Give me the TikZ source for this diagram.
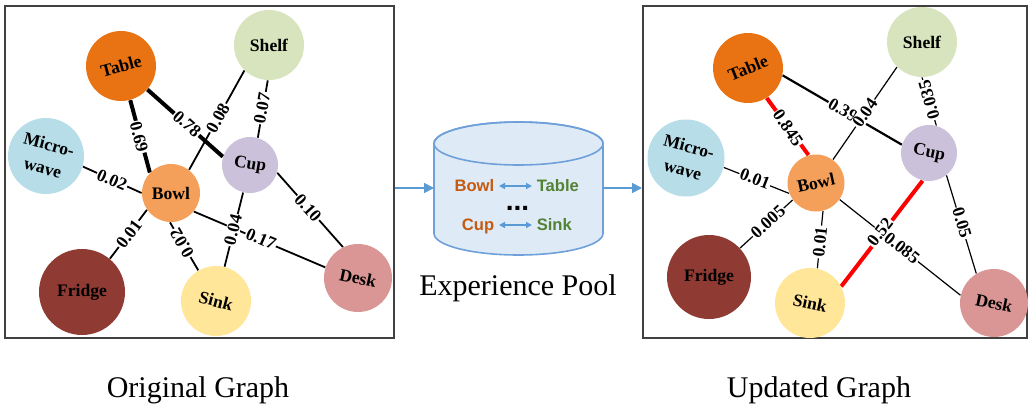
\documentclass[tikz,border=0pt]{standalone}
\usepackage{fontspec}
\setmainfont{Liberation Serif}
\newfontfamily\arialf{Liberation Sans}
\usetikzlibrary{arrows.meta}
\pgfdeclarelayer{bg}
\pgfsetlayers{bg,main}
\definecolor{tableC}{HTML}{E97312}
\definecolor{microC}{HTML}{B7DDE8}
\definecolor{shelfC}{HTML}{D7E4BD}
\definecolor{cupC}{HTML}{CCC1DA}
\definecolor{bowlC}{HTML}{F5A05A}
\definecolor{fridgeC}{HTML}{8F3A32}
\definecolor{sinkC}{HTML}{FFE699}
\definecolor{deskC}{HTML}{D99694}
\definecolor{boxgray}{HTML}{404040}
\definecolor{flowblue}{HTML}{5B9BD5}
\definecolor{poolfill}{HTML}{DEEBF7}
\definecolor{poolline}{HTML}{6FA0DA}
\definecolor{wordO}{HTML}{C55A11}
\definecolor{wordG}{HTML}{548235}
\begin{document}
\begin{tikzpicture}[x=0.5pt,y=-0.5pt,
  obj/.style={circle, inner sep=0pt, draw=none},
  otext/.style={font=\fontsize{8.8}{12}\selectfont\bfseries, align=center, inner sep=0pt},
  wlab/.style={font=\fontsize{8.8}{9}\selectfont\bfseries, fill=white, inner sep=0.5pt},
  thinL/.style={line width=0.9pt},
  thickL/.style={line width=2pt},
  thinR/.style={line width=0.6pt},
  midR/.style={line width=1.1pt},
  redL/.style={line width=2pt, draw=red},
  panel/.style={draw=boxgray, line width=1pt, inner sep=0pt},
  flow/.style={draw=flowblue, line width=0.8pt, -{Triangle[length=5pt,width=5pt]}},
  dbl/.style={draw=flowblue, line width=0.7pt, {Triangle[length=3pt,width=3pt]}-{Triangle[length=3pt,width=3pt]}},
  ptext/.style={font=\fontsize{8.3}{9}\arialf\bfseries, inner sep=2.2pt, text height=1.6ex, text depth=0.35ex},
  captxt/.style={font=\fontsize{15}{16}\selectfont},
]
\useasboundingbox (0,0) rectangle (1029,412);

% panels
\node[panel, minimum width=194.5pt, minimum height=166pt] (origBox) at (199.5,172) {};
\node[panel, minimum width=192pt, minimum height=166pt] (updBox) at (835,172) {};

% ---------- left graph nodes ----------
\node[obj, fill=tableC, minimum size=35pt] (tableL) at (121,66) {};
\node[obj, fill=microC, minimum size=38pt] (microL) at (46,156) {};
\node[obj, fill=shelfC, minimum size=35pt] (shelfL) at (269,45) {};
\node[obj, fill=cupC, minimum size=28pt] (cupL) at (250,165) {};
\node[obj, fill=bowlC, minimum size=29pt] (bowlL) at (171,193) {};
\node[obj, fill=fridgeC, minimum size=43pt] (fridgeL) at (82,292) {};
\node[obj, fill=sinkC, minimum size=35pt] (sinkL) at (216,301) {};
\node[obj, fill=deskC, minimum size=34pt] (deskL) at (358,278) {};

\node[otext, rotate=15] (tableLt) at (tableL) {Table};
\node[otext, rotate=-15] (microLt) at (microL) {Micro-\\wave};
\node[otext] (shelfLt) at (shelfL) {Shelf};
\node[otext, rotate=-10] (cupLt) at (cupL) {Cup};
\node[otext] (bowlLt) at (bowlL) {Bowl};
\node[otext] (fridgeLt) at (fridgeL) {Fridge};
\node[otext, rotate=-15] (sinkLt) at (sinkL) {Sink};
\node[otext, rotate=-12] (deskLt) at (deskL) {Desk};

% ---------- right graph nodes ----------
\node[obj, fill=tableC, minimum size=35pt] (tableR) at (748,68) {};
\node[obj, fill=microC, minimum size=38.5pt] (microR) at (686,158) {};
\node[obj, fill=shelfC, minimum size=35pt] (shelfR) at (922,42) {};
\node[obj, fill=cupC, minimum size=28pt] (cupR) at (929,153) {};
\node[obj, fill=bowlC, minimum size=28.5pt] (bowlR) at (816,183) {};
\node[obj, fill=fridgeC, minimum size=42pt] (fridgeR) at (709,277) {};
\node[obj, fill=sinkC, minimum size=35pt] (sinkR) at (810,303) {};
\node[obj, fill=deskC, minimum size=34pt] (deskR) at (994,303) {};

\node[otext, rotate=22] (tableRt) at (tableR) {Table};
\node[otext, rotate=-15] (microRt) at (microR) {Micro-\\wave};
\node[otext] (shelfRt) at (shelfR) {Shelf};
\node[otext, rotate=-12] (cupRt) at (cupR) {Cup};
\node[otext, rotate=12] (bowlRt) at (bowlR) {Bowl};
\node[otext] (fridgeRt) at (fridgeR) {Fridge};
\node[otext, rotate=-12] (sinkRt) at (sinkR) {Sink};
\node[otext, rotate=-12] (deskRt) at (deskR) {Desk};

\begin{pgfonlayer}{bg}
% left edges
\draw[thickL] (tableL) -- (bowlL.136);
\draw[thickL] (tableL) -- (cupL.163);
\draw[thinL] (shelfL.226) -- (bowlL.52);
\draw[thinL] (shelfL.-92) -- (cupL.74);
\draw[thinL] (microL.-16) -- (bowlL.180);
\draw[thinL] (bowlL.215) -- (fridgeL.50);
\draw[thinL] (bowlL.-92) -- (sinkL.120);
\draw[thinL] (bowlL.-39) -- (deskL.162);
\draw[thinL] (cupL) -- (sinkL);
\draw[thinL] (cupL.-16) -- (deskL.116);
% left labels
\node[wlab, rotate=-75.8] (l1) at (139,137) {0.69};
\node[wlab, rotate=-41.7] (l2) at (187,124) {0.78};
\node[wlab, rotate=60.8] (l3) at (218,118) {0.08};
\node[wlab, rotate=80] (l4) at (262,108) {0.07};
\node[wlab, rotate=-23.4] (l5) at (112,180) {0.02};
\node[wlab, rotate=53.5] (l6) at (129,234) {0.01};
\node[wlab, rotate=120.4] (l7) at (182,243) {0.02};
\node[wlab, rotate=-23.3] (l10) at (261,239) {0.17};
\node[wlab, rotate=76] (l8) at (233,230) {0.04};
\node[wlab, rotate=-48.3] (l9) at (308,208) {0.10};

% right edges
\draw[redL] (tableR.-58) -- (bowlR.105);
\draw[midR] (tableR.-12) -- (cupR.163);
\draw[thinR] (shelfR.225) -- (bowlR.54);
\draw[thinR] (shelfR.-90) -- (cupR.75);
\draw[thinR] (microR.-14) -- (bowlR.201);
\draw[thinR] (bowlR.216) -- (fridgeR.43);
\draw[thinR] (bowlR.-76) -- (sinkR.78);
\draw[thinR] (bowlR.-35) -- (deskR.167);
\draw[thinR] (cupR.-52) -- (deskR.121);
\node[wlab, rotate=-38.4] (r8) at (902,248) {0.085};
\draw[redL] (cupR.257) -- (sinkR.28);
% right labels
\node[wlab, rotate=-55.3] (r1) at (788,128) {0.845};
\node[wlab, rotate=-30.3] (r2) at (843,110) {0.39};
\node[wlab, rotate=55.4] (r3) at (865,113) {0.04};
\node[wlab, rotate=105.4] (r4) at (929,100) {0.035};
\node[wlab, rotate=-21.2] (r5) at (755,179) {0.01};
\node[wlab, rotate=42.2] (r6) at (768,222) {0.005};
\node[wlab, rotate=84] (r7) at (820,242) {0.01};
\node[wlab, rotate=52.5] (r9) at (880,232) {0.52};
\node[wlab, rotate=-73.5] (r10) at (962,223) {0.05};
\end{pgfonlayer}

% ---------- experience pool cylinder ----------
\path[fill=poolfill, draw=poolline, line width=0.8pt]
  (434,143.5) -- (434,233.5)
  arc[start angle=180, end angle=360, x radius=42.25pt, y radius=10.75pt]
  -- (603,143.5)
  arc[start angle=0, end angle=180, x radius=42.25pt, y radius=10.75pt] -- cycle;
\draw[poolline, line width=0.8pt] (518.5,143.5) ellipse [x radius=42.25pt, y radius=10.75pt];
\coordinate (poolW) at (434,188);
\coordinate (poolE) at (603,188);

\node[ptext, text=wordO, anchor=east] (pBowl) at (499,186) {Bowl};
\node[ptext, text=wordG, anchor=west] (pTable) at (532,186) {Table};
\node[ptext, text=wordO, anchor=east] (pCup) at (499,225) {Cup};
\node[ptext, text=wordG, anchor=west] (pSink) at (532,225) {Sink};
\node[font=\fontsize{14}{14}\arialf\bfseries, inner sep=0pt, anchor=base] (pDots) at (517.5,210) {...};
\draw[dbl] (pBowl) -- (pTable);
\draw[dbl] (pCup) -- (pSink);

\draw[flow] (origBox.east |- poolW) -- (poolW);
\draw[flow] (poolE) -- (updBox.west |- poolE);

% captions
\node[captxt] (poolCap) at (518,288) {Experience Pool};
\node[captxt] (origCap) at (198,390) {Original Graph};
\node[captxt] (updCap) at (819,390) {Updated Graph};
\end{tikzpicture}
\end{document}
